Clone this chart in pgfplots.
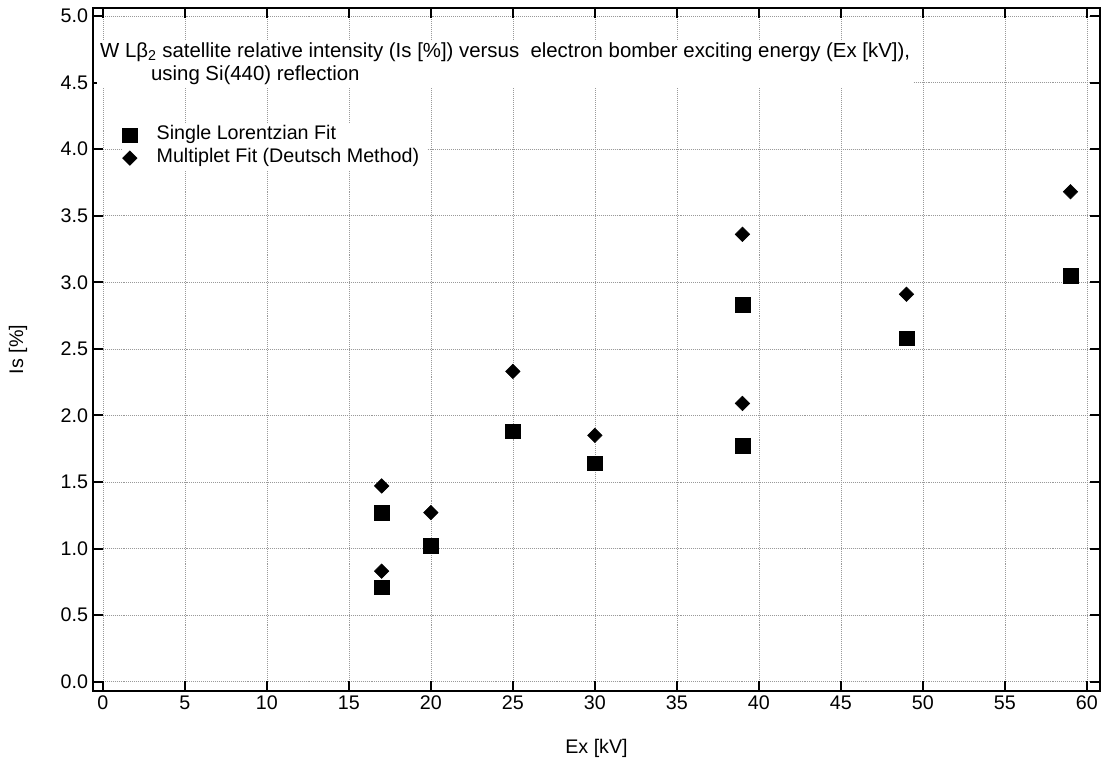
\documentclass[border=0pt]{standalone}
\usepackage{fontspec}
\setmainfont{Liberation Sans}
\usepackage{pgfplots}
\pgfplotsset{compat=1.18}

% Single Lorentzian fit
\pgfplotstableread{
ex is
17 1.27
17 0.71
20 1.02
25 1.88
30 1.64
39 2.83
39 1.77
49 2.58
59 3.05
}\lorentz
% Multiplet fit (Deutsch method)
\pgfplotstableread{
ex is
17 1.47
17 0.83
20 1.27
25 2.33
30 1.85
39 3.36
39 2.09
49 2.91
59 3.68
}\multiplet

\begin{document}
\begin{tikzpicture}
\begin{axis}[
    name=ax,
    scale only axis,
    width=251.75mm, height=170.75mm,
    xmin=-0.6, xmax=60.8,
    ymin=-0.07, ymax=5.06,
    xtick={0,5,...,60},
    ytick={0,0.5,...,5},
    font=\fontsize{14}{16}\selectfont,
    /pgf/number format/assume math mode=true,
    y tick label style={/pgf/number format/.cd, fixed, fixed zerofill, precision=1},
    tick align=inside,
    major tick length=2.5mm,
    tick style={black, line width=0.5mm},
    axis line style={line width=0.5mm},
    grid=major,
    major grid style={densely dotted, gray!80, line width=0.3pt},
    xlabel={Ex [kV]},
    ylabel={Is [\%]},
    xlabel style={at={(axis description cs:0.5,-0.0835)}, anchor=center},
    ylabel style={at={(axis description cs:-0.0745,0.5)}, anchor=center},
    legend style={at={(axis description cs:0.029,0.831)}, anchor=north west,
        draw=none, fill=white, font=\fontsize{14}{16}\selectfont,
        row sep=0pt, inner sep=0pt,
        /tikz/every odd column/.append style={column sep=3mm},
        nodes={inner xsep=1.875mm, inner ysep=1.4pt, text height=10pt, text depth=3.5pt}},
    legend cell align=left,
]
\node[anchor=north west, align=left, fill=white, inner sep=2pt,
      font=\fontsize{14.5}{16.3}\selectfont]
  at (rel axis cs:0.004,0.954)
  {W Lβ\textsubscript{2} satellite relative intensity (Is [\%]) versus\ \ electron bomber exciting energy (Ex [kV]),\\
   \hspace{12.75mm}using Si(440) reflection};
\addplot[only marks, mark=square*, mark size=1.83mm, black] table[x=ex, y=is] {\lorentz};
\addlegendentry{Single Lorentzian Fit}
\addplot[only marks, mark=square*, mark size=1.28mm, black, mark options={rotate=45}] table[x=ex, y=is] {\multiplet};
\addlegendentry{Multiplet Fit (Deutsch Method)}
\end{axis}
\pgfresetboundingbox
\path ([shift={(-23.25mm,-19.75mm)}]ax.south west) rectangle ([shift={(0.5mm,2mm)}]ax.north east);
\end{tikzpicture}
\end{document}
